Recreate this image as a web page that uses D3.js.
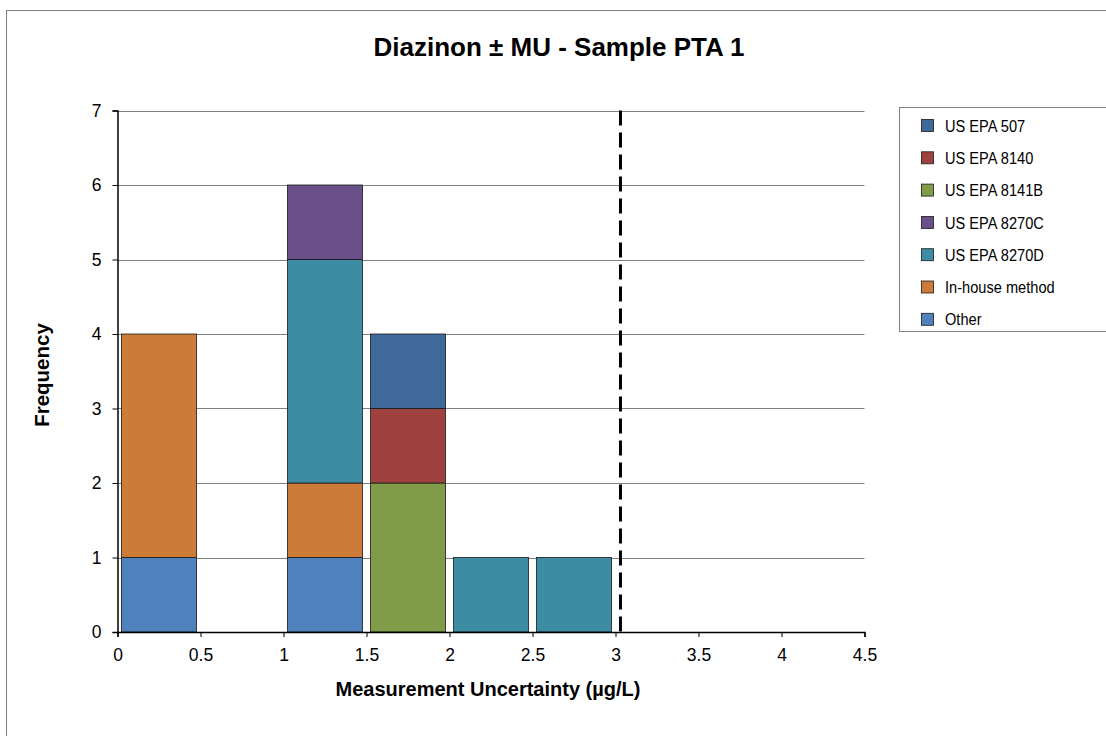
<!DOCTYPE html>
<html><head><meta charset="utf-8">
<script src="https://cdn.jsdelivr.net/npm/d3@7"></script>
<style>body{margin:0;background:#fff;} svg{display:block;font-family:"Liberation Sans",Arial,sans-serif;}</style>
</head><body>
<svg id="chart" width="1106" height="736"></svg>
<script>
const binStarts = [0, 0.5, 1, 1.5, 2, 2.5, 3, 3.5, 4];
const binWidth = 0.5;
const seriesNames = ["Other", "In-house method", "US EPA 8270D", "US EPA 8270C", "US EPA 8141B", "US EPA 8140", "US EPA 507"];
const seriesColors = ["#4f81bd", "#cc7b38", "#3c8da3", "#6a5088", "#809c48", "#9e413f", "#3f6998"];
const otherVals    = [1, 0, 1, 0, 0, 0, 0, 0, 0];
const inhouseVals  = [3, 0, 1, 0, 0, 0, 0, 0, 0];
const epa8270DVals = [0, 0, 3, 0, 1, 1, 0, 0, 0];
const epa8270CVals = [0, 0, 1, 0, 0, 0, 0, 0, 0];
const epa8141BVals = [0, 0, 0, 2, 0, 0, 0, 0, 0];
const epa8140Vals  = [0, 0, 0, 1, 0, 0, 0, 0, 0];
const epa507Vals   = [0, 0, 0, 1, 0, 0, 0, 0, 0];
const seriesValues = [otherVals, inhouseVals, epa8270DVals, epa8270CVals, epa8141BVals, epa8140Vals, epa507Vals];
const xTicks = [0, 0.5, 1, 1.5, 2, 2.5, 3, 3.5, 4, 4.5];
const yTicks = [0, 1, 2, 3, 4, 5, 6, 7];
const refLine = 3.03;
const title = "Diazinon ± MU - Sample PTA 1";
const xTitle = "Measurement Uncertainty (µg/L)";
const yTitle = "Frequency";

const svg = d3.select("#chart");
const pLeft = 117.5, pRight = 864.5, pTop = 110.5, pBottom = 632;
const x = d3.scaleLinear().domain([0, 4.5]).range([pLeft, pRight]);
const y = d3.scaleLinear().domain([0, 7]).range([pBottom, pTop]);

// outer border
svg.append("rect").attr("x", 6.5).attr("y", 10.5).attr("width", 1120).attr("height", 760)
  .attr("fill", "none").attr("stroke", "#808080").attr("stroke-width", 1);

// gridlines
svg.append("g").selectAll("line").data(yTicks.filter(d => d > 0)).join("line")
  .attr("x1", pLeft).attr("x2", pRight)
  .attr("y1", d => Math.round(y(d)) + 0.5).attr("y2", d => Math.round(y(d)) + 0.5)
  .attr("stroke", "#808080").attr("stroke-width", 1);

// stacked data
const table = binStarts.map((b, i) => {
  const row = {bin: b};
  seriesNames.forEach((s, j) => row[s] = seriesValues[j][i]);
  return row;
});
const stack = d3.stack().keys(seriesNames)(table);
const inset = 0.024;
svg.append("g").selectAll("g").data(stack).join("g")
  .attr("fill", (d, i) => seriesColors[i])
  .selectAll("rect").data(d => d.filter(p => p[1] - p[0] > 0)).join("rect")
  .attr("x", d => x(d.data.bin + inset))
  .attr("width", d => x(d.data.bin + binWidth - inset) - x(d.data.bin + inset))
  .attr("y", d => y(d[1]))
  .attr("height", d => y(d[0]) - y(d[1]))
  .attr("stroke", "#1a1a1a").attr("stroke-width", 0.8);

// reference dashed line
svg.append("line").attr("x1", x(refLine)).attr("x2", x(refLine)).attr("y1", pTop).attr("y2", pBottom)
  .attr("stroke", "#000").attr("stroke-width", 3).attr("stroke-dasharray", "15,7");

// axes
const xAxis = svg.append("g").attr("transform", `translate(0,${pBottom})`)
  .call(d3.axisBottom(x).tickValues(xTicks).tickSize(5).tickFormat(d3.format("")));
const yAxis = svg.append("g").attr("transform", `translate(${pLeft},0)`)
  .call(d3.axisLeft(y).tickValues(yTicks).tickSize(5).tickFormat(d3.format("d")));
[xAxis, yAxis].forEach(a => {
  a.select(".domain").attr("stroke", "#000").attr("stroke-width", 1.5);
  a.selectAll(".tick line").attr("stroke", "#000");
  a.selectAll("text").attr("font-size", 17.5).attr("fill", "#000")
    .attr("font-family", "Liberation Sans, Arial, sans-serif");
});
xAxis.selectAll("text").attr("dy", "0.71em").attr("y", 17);
yAxis.selectAll("text").attr("x", -16);

// titles
svg.append("text").attr("x", 559).attr("y", 56).attr("text-anchor", "middle")
  .attr("font-size", 26).attr("font-weight", "bold").text(title);
svg.append("text").attr("x", 488).attr("y", 696).attr("text-anchor", "middle")
  .attr("font-size", 20).attr("font-weight", "bold").text(xTitle);
svg.append("text").attr("transform", "translate(49,375) rotate(-90)").attr("text-anchor", "middle")
  .attr("font-size", 20.5).attr("font-weight", "bold").text(yTitle);

// legend
svg.append("rect").attr("x", 899.5).attr("y", 107.5).attr("width", 220).attr("height", 224)
  .attr("fill", "#fff").attr("stroke", "#808080");
const legendItems = seriesNames.map((n, i) => ({name: n, color: seriesColors[i]})).reverse();
const lg = svg.append("g").selectAll("g").data(legendItems).join("g")
  .attr("transform", (d, i) => `translate(921,${125.5 + i * 32.3})`);
lg.append("rect").attr("x", 0.5).attr("y", -6).attr("width", 12).attr("height", 12)
  .attr("fill", d => d.color).attr("stroke", "#1a1a1a").attr("stroke-width", 0.8);
lg.append("text").attr("transform", "translate(24,0) scale(0.86,1)").attr("dy", "0.36em")
  .attr("font-size", 17).text(d => d.name);
</script>
</body></html>
